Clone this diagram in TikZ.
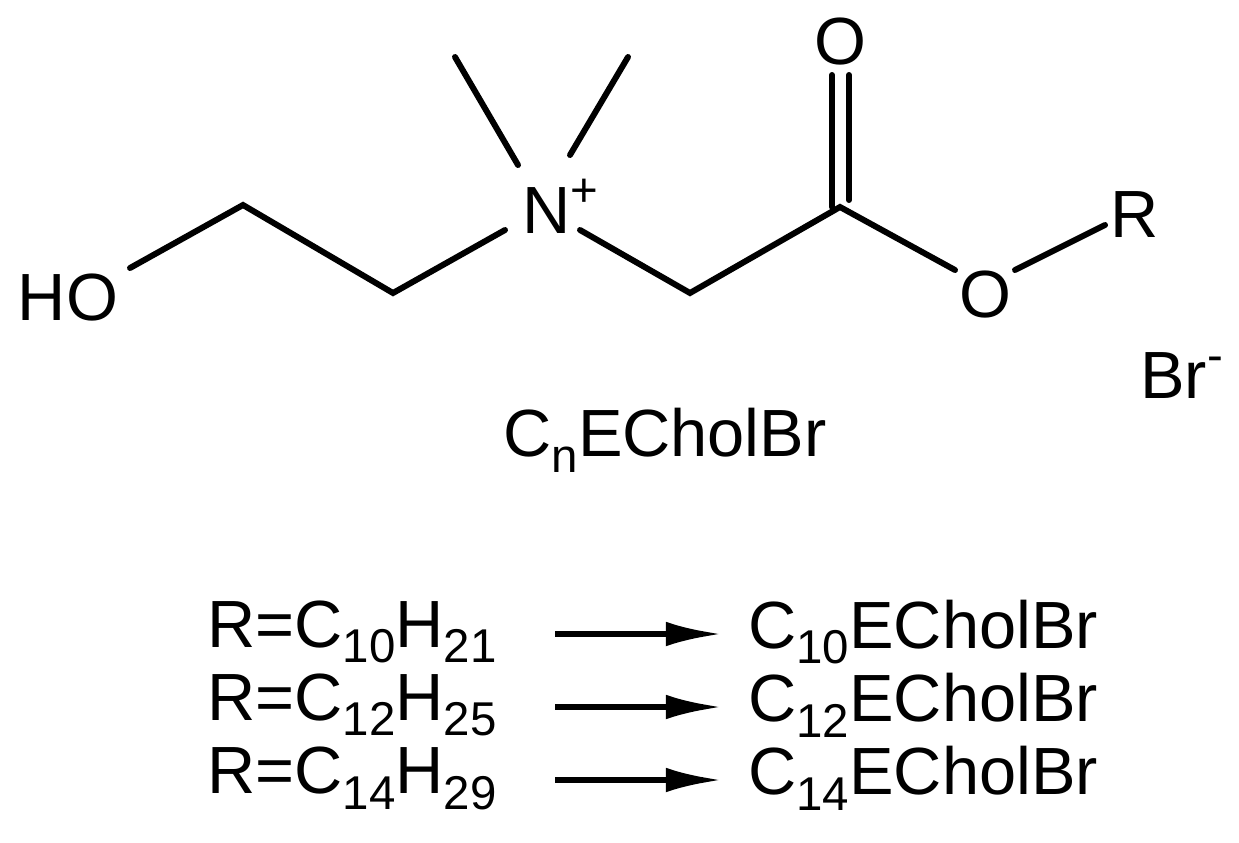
\documentclass[tikz,border=0pt]{standalone}
\usepackage{fontspec}
\setmainfont{Liberation Sans}
\usetikzlibrary{arrows.meta}
\newcommand{\mysub}[1]{\raisebox{-9pt}{\fontsize{27}{30}\selectfont #1}}
\newcommand{\mysup}[1]{\raisebox{15pt}{\fontsize{27}{30}\selectfont #1}}
\begin{document}
\begin{tikzpicture}[x=0.02cm,y=-0.02cm,
  bond/.style={line width=3.4pt,line cap=round},
  lbl/.style={font=\fontsize{38}{42}\selectfont,inner sep=0pt},
  arr/.style={line width=3.4pt,-{Latex[length=32pt,width=14pt]}}]
\useasboundingbox (0,0) rectangle (1239,842);
\node[lbl] (ho) at (68,298) {HO};
\node[lbl,anchor=base west] (n) at (522,233) {N\mysup{+}};
\node[lbl] (o1) at (840,42) {O};
\node[lbl] (o2) at (985,295) {O};
\node[lbl] (r) at (1135,215) {R};
\node[lbl,anchor=base west] (br) at (1140,398) {Br\mysup{-}};
\node[lbl] (name) at (665,440) {C\mysub{n}ECholBr};
\coordinate (c1) at (243,205);
\coordinate (c2) at (393,293);
\coordinate (c3) at (690,293);
\coordinate (c4) at (840,207);
\draw[bond] (130,268) -- (c1) -- (c2) -- (505,230);
\draw[bond] (518,165) -- (455,57);
\draw[bond] (570,155) -- (628,57);
\draw[bond] (580,230) -- (c3) -- (c4) -- (955,270);
\draw[bond] (832,207) -- (832,75);
\draw[bond] (849,200) -- (849,75);
\draw[bond] (1015,270) -- (1105,225);
\foreach \y/\a/\b/\c in {632/10/21/10, 705/12/25/12, 778/14/29/14}{
  \node[lbl,anchor=west] (l\a) at (207,\y) {R=C\mysub{\a}H\mysub{\b}};
  \node[lbl,anchor=west] (rt\a) at (748,\y) {C\mysub{\c}ECholBr};
  \draw[arr] (555,\y+2) -- (722,\y+2);
}
\end{tikzpicture}
\end{document}
